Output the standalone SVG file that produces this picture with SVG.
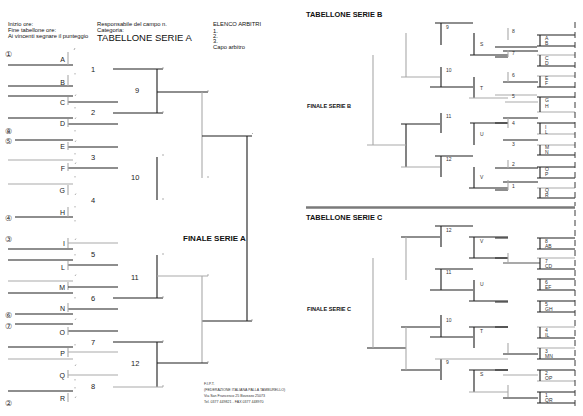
<svg xmlns="http://www.w3.org/2000/svg" width="583" height="416" viewBox="0 0 583 416">
<style>
.k{stroke:#1e1e1e;stroke-width:1.1;fill:none}
.g{stroke:#a9a9a9;stroke-width:1.1;fill:none}
.m{stroke:#9a9a9a;stroke-width:0.8;fill:none}
.d{stroke:#3a3a3a;stroke-width:1;fill:none;stroke-dasharray:6 4}
.hd{font-family:"Liberation Sans",Arial,sans-serif;font-size:5.8px;fill:#111}
.tt{font-family:"Liberation Sans",Arial,sans-serif;font-size:9.5px;fill:#111}
.tb{font-family:"Liberation Sans",Arial,sans-serif;font-size:7.4px;font-weight:bold;fill:#111}
.fa{font-family:"Liberation Sans",Arial,sans-serif;font-size:8px;font-weight:bold;fill:#111}
.fb{font-family:"Liberation Sans",Arial,sans-serif;font-size:5.6px;font-weight:bold;fill:#111}
.lt{font-family:"Liberation Sans",Arial,sans-serif;font-size:7px;fill:#222;text-anchor:end}
.n{font-family:"Liberation Sans",Arial,sans-serif;font-size:7.5px;fill:#222}
.c{font-family:"DejaVu Sans",sans-serif;font-size:8px;fill:#333}
.s{font-family:"Liberation Sans",Arial,sans-serif;font-size:5px;fill:#333}
.ft{font-family:"Liberation Sans",Arial,sans-serif;font-size:3.6px;fill:#333}
</style>
<rect width="583" height="416" fill="#ffffff"/>

<g id="header">
<text class="hd" x="8" y="26">Inizio ore:</text>
<text class="hd" x="8" y="32">Fine tabellone ore:</text>
<text class="hd" x="8" y="38">Ai vincenti segnare il punteggio</text>
<text class="hd" x="97" y="26">Responsabile del campo n.</text>
<text class="hd" x="97" y="32">Categoria:</text>
<text class="tt" x="97" y="41">TABELLONE SERIE A</text>
<text class="hd" x="213" y="26">ELENCO ARBITRI</text>
<text class="hd" x="213" y="33">1.</text>
<text class="hd" x="213" y="38">2.</text>
<text class="hd" x="213" y="43">3.</text>
<text class="hd" x="213" y="49">Capo arbitro</text>
</g>

<g id="seeds">
<text class="c" x="5" y="57">①</text>
<text class="c" x="5" y="134">⑧</text>
<text class="c" x="5" y="144">⑤</text>
<text class="c" x="5" y="221">④</text>
<text class="c" x="5" y="242">③</text>
<text class="c" x="5" y="318">⑥</text>
<text class="c" x="5" y="329">⑦</text>
<text class="c" x="5" y="406">②</text>
</g>

<g id="serieA-entries">
<g id="eA"><path class="k" d="M8 65H73"/><path class="g" d="M68 52V65"/><text class="lt" x="65" y="62">A</text></g>
<g id="eB"><path class="k" d="M8 86H73"/><path class="g" d="M68 75V86"/><text class="lt" x="65" y="85">B</text></g>
<g id="eC"><path class="k" d="M8 96H73M68 102H118"/><path class="g" d="M68 97V105"/><text class="lt" x="65" y="105">C</text></g>
<g id="eD"><path class="k" d="M8 118H73M68 124H118"/><path class="g" d="M68 119V127"/><text class="lt" x="65" y="126">D</text></g>
<g id="eE"><path class="k" d="M15 140H73M68 147H118"/><path class="g" d="M68 142V150"/><text class="lt" x="65" y="149" fill="#777">E</text></g>
<g id="eF"><path class="g" d="M8 160H73"/><path class="k" d="M68 168H118"/><path class="g" d="M68 163V171"/><text class="lt" x="65" y="171">F</text></g>
<g id="eG"><path class="g" d="M8 184H73M68 185V195"/><text class="lt" x="65" y="193">G</text></g>
<g id="eH"><path class="k" d="M15 217H73"/><path class="g" d="M68 207V217"/><text class="lt" x="65" y="215">H</text></g>
<g id="eI"><path class="g" d="M68 243H118M68 238V248"/><path class="k" d="M8 249H73"/><text class="lt" x="65" y="246">I</text></g>
<g id="eL"><path class="k" d="M8 260H73M68 265H118"/><path class="g" d="M68 261V270"/><text class="lt" x="65" y="270">L</text></g>
<g id="eM"><path class="g" d="M8 281H73M68 282V290"/><path class="k" d="M68 287H118"/><text class="lt" x="65" y="290">M</text></g>
<g id="eN"><path class="k" d="M8 293H73M68 309H118"/><path class="g" d="M68 303V312"/><text class="lt" x="65" y="311">N</text></g>
<g id="eN2"><path class="k" d="M15 314H73"/></g>
<g id="eO"><path class="k" d="M15 324H73M68 331H118"/><path class="g" d="M68 327V335"/><text class="lt" x="65" y="335">O</text></g>
<g id="eP"><path class="k" d="M8 347H73"/><path class="g" d="M68 352H118M8 359H73M68 348V357"/><text class="lt" x="65" y="356">P</text></g>
<g id="eQ"><path class="g" d="M68 375H118M68 370V378"/><text class="lt" x="65" y="378">Q</text></g>
<g id="eR"><path class="k" d="M8 391H73"/><path class="g" d="M68 393V402"/><text class="lt" x="65" y="401">R</text></g>
</g>

<g id="serieA-matches">
<text class="n" x="91" y="72">1</text>
<text class="n" x="91" y="115">2</text>
<text class="n" x="91" y="160">3</text>
<text class="n" x="91" y="203">4</text>
<text class="n" x="91" y="257">5</text>
<text class="n" x="91" y="301">6</text>
<text class="n" x="91" y="345">7</text>
<text class="n" x="91" y="389">8</text>
<text class="n" x="135" y="93">9</text>
<text class="n" x="131" y="180">10</text>
<text class="n" x="131" y="280">11</text>
<text class="n" x="131" y="366">12</text>
<text class="fa" x="183" y="241">FINALE SERIE A</text>
</g>

<g id="serieA-connectors">
<path class="k" d="M113 69H163M113 113H163M157 69V113M157 92H208"/>
<path class="k" d="M157 157V200"/>
<path class="g" d="M202 92V178"/>
<path class="k" d="M202 136H252M247 136V321M202 321H252"/>
<path class="k" d="M157 255V298M113 298H163"/>
<path class="g" d="M157 276H208M202 276V363"/>
<path class="k" d="M113 342H163M157 342V387M157 363H208"/>
<path class="g" d="M113 387H163"/>
<path class="m" d="M74 50l1 -2M75 73v1.5M75 96l1 -1.5M75 107v1.5M75 119l1 -1.5M75 130v1.5M75 142l1 -1.5M75 153v1.5M75 164l1 -1.5M75 176v1.5M75 195l1 -1.5M75 206v1.5M75 220v1.5M75 240l1 -1.5M75 254v1.5M75 276l1 -1.5M75 297v1.5M75 320l1 -1.5M75 344v1.5M75 366l1 -1.5M75 379v1.5M75 387v1.5M75 398l1 -1.5M163 67v2M163 111v2M163 154v2M163 198v2M208 90v2M208 176v2M163 253v2M163 296v2M163 340v2M163 385v2M208 274v2M208 361v2M252 134l1 -1M252 319v2"/>
</g>

<g id="footer">
<text class="ft" x="204" y="385">F.I.P.T.</text>
<text class="ft" x="204" y="391">(FEDERAZIONE ITALIANA PALLA TAMBURELLO)</text>
<text class="ft" x="204" y="397">Via San Francesco 25 Bovezzo 25073</text>
<text class="ft" x="204" y="403">Tel. 0377 449821 - FAX 0377 448970</text>
</g>

<g id="serieB">
<text class="tb" x="306" y="17">TABELLONE SERIE B</text>
<text class="fb" x="307" y="108">FINALE SERIE B</text>
<g id="B-col1">
<path class="k" d="M435 23H473M441 23V45M430 87H473M441 67V87M401 124H440M441 113V133M435 156H473M441 156V177M406 124V167"/>
<path class="g" d="M401 77H440M406 33V77M401 167H440M373 55V145M367 145H406"/>
<text class="s" x="446" y="29">9</text>
<text class="s" x="446" y="72">10</text>
<text class="s" x="446" y="118">11</text>
<text class="s" x="446" y="161">12</text>
</g>
<g id="B-col2">
<path class="k" d="M474 33V55M470 55H508M474 77V98M470 123H508M474 123V145M474 167V188M469 188H508"/>
<path class="g" d="M469 98H508"/>
<text class="s" x="480" y="46">S</text>
<text class="s" x="480" y="90">T</text>
<text class="s" x="480" y="136">U</text>
<text class="s" x="480" y="179">V</text>
</g>
<g id="B-col3">
<path class="k" d="M495 47H537M503 51H538M495 57H508M503 82H538M503 118H538M495 123H508M503 140H538M495 168H538M503 182H538M495 190H508"/>
<path class="g" d="M508 28V40M508 50V57M508 72V82M495 95H537M505 102H538M508 118V128M508 160V168M508 180V190"/>
<text class="s" x="512" y="33">8</text>
<text class="s" x="512" y="55">7</text>
<text class="s" x="512" y="77">6</text>
<text class="s" x="512" y="98">5</text>
<text class="s" x="512" y="125">4</text>
<text class="s" x="512" y="146">3</text>
<text class="s" x="512" y="166">2</text>
<text class="s" x="512" y="188">1</text>
</g>
<g id="B-col4">
<path class="k" d="M537 35H575M537 46H575M537 66H575M537 87H575M537 97H575M537 123H575M537 155H575M537 167H575M537 178H575M537 198H575"/>
<path class="g" d="M537 55H575M537 76H575M537 112H575M537 134H575M537 145H575M537 188H575"/>
<path class="k" d="M540 35V46M540 55V66M540 76V87M540 97V112M540 123V134M540 145V155M540 167V178M540 188V198"/>
<path class="d" d="M575 22V206"/>
<text class="s" x="545" y="40">A</text><text class="s" x="545" y="45">B</text>
<text class="s" x="545" y="60">C</text><text class="s" x="545" y="65">D</text>
<text class="s" x="545" y="80">E</text><text class="s" x="545" y="85">F</text>
<text class="s" x="545" y="102">G</text><text class="s" x="545" y="108">H</text>
<text class="s" x="545" y="129">I</text><text class="s" x="545" y="134">L</text>
<text class="s" x="545" y="149">M</text><text class="s" x="545" y="154">N</text>
<text class="s" x="545" y="171">O</text><text class="s" x="545" y="176">P</text>
<text class="s" x="545" y="192">Q</text><text class="s" x="545" y="197">R</text>
</g>
</g>

<path d="M306 207.5H575" stroke="#7a7a7a" stroke-width="2.6"/>

<g id="serieC">
<text class="tb" x="306" y="220">TABELLONE SERIE C</text>
<text class="fb" x="307" y="311">FINALE SERIE C</text>
<g id="C-col1">
<path class="k" d="M435 226H473M441 226V247M401 237H440M435 269H473M441 269V290M430 290H473M401 327H440M441 315V337M430 337H473M441 359V380M401 370H440M367 348H406"/>
<path class="g" d="M406 237V280M373 258V348M406 327V370M435 359H508"/>
<text class="s" x="446" y="232">12</text>
<text class="s" x="446" y="274">11</text>
<text class="s" x="446" y="322">10</text>
<text class="s" x="446" y="364">9</text>
</g>
<g id="C-col2">
<path class="k" d="M469 237H508M474 237V258M469 258H508M474 280V301M469 301H508M469 327H508M474 327V348M469 370H508M474 370V392"/>
<path class="g" d="M469 392H508"/>
<text class="s" x="480" y="243">V</text>
<text class="s" x="480" y="286">U</text>
<text class="s" x="480" y="333">T</text>
<text class="s" x="480" y="376">S</text>
</g>
<g id="C-col3">
<path class="k" d="M495 238H508M495 258H508M495 302H508M495 327H508M503 354H538M495 370H508M503 398H538"/>
<path d="M503 263H540" stroke="#555" stroke-width="1.1"/>
<path class="g" d="M508 253V263M508 343V353M503 375H538M508 385V397"/>
</g>
<g id="C-col4">
<path class="k" d="M537 238H575M537 249H575M537 269H575M537 279H575M537 290H575M537 301H575M537 312H575M537 338H575M537 359H575M537 370H575M537 392H575M537 403H575"/>
<path class="g" d="M537 258H575M537 327H575M537 348H575M537 381H575"/>
<path class="k" d="M540 238V249M540 258V269M540 279V290M540 301V312M540 327V338M540 348V359M540 370V381M540 392V403"/>
<path class="d" d="M575 210V410"/>
<text class="s" x="545" y="243">8</text><text class="s" x="545" y="248">AB</text>
<text class="s" x="545" y="263">7</text><text class="s" x="545" y="268">CD</text>
<text class="s" x="545" y="284">6</text><text class="s" x="545" y="289">EF</text>
<text class="s" x="545" y="306">5</text><text class="s" x="545" y="311">GH</text>
<text class="s" x="545" y="332">4</text><text class="s" x="545" y="337">IL</text>
<text class="s" x="545" y="353">3</text><text class="s" x="545" y="358">MN</text>
<text class="s" x="545" y="375">2</text><text class="s" x="545" y="380">OP</text>
<text class="s" x="545" y="397">1</text><text class="s" x="545" y="402">QR</text>
</g>
</g>
</svg>
